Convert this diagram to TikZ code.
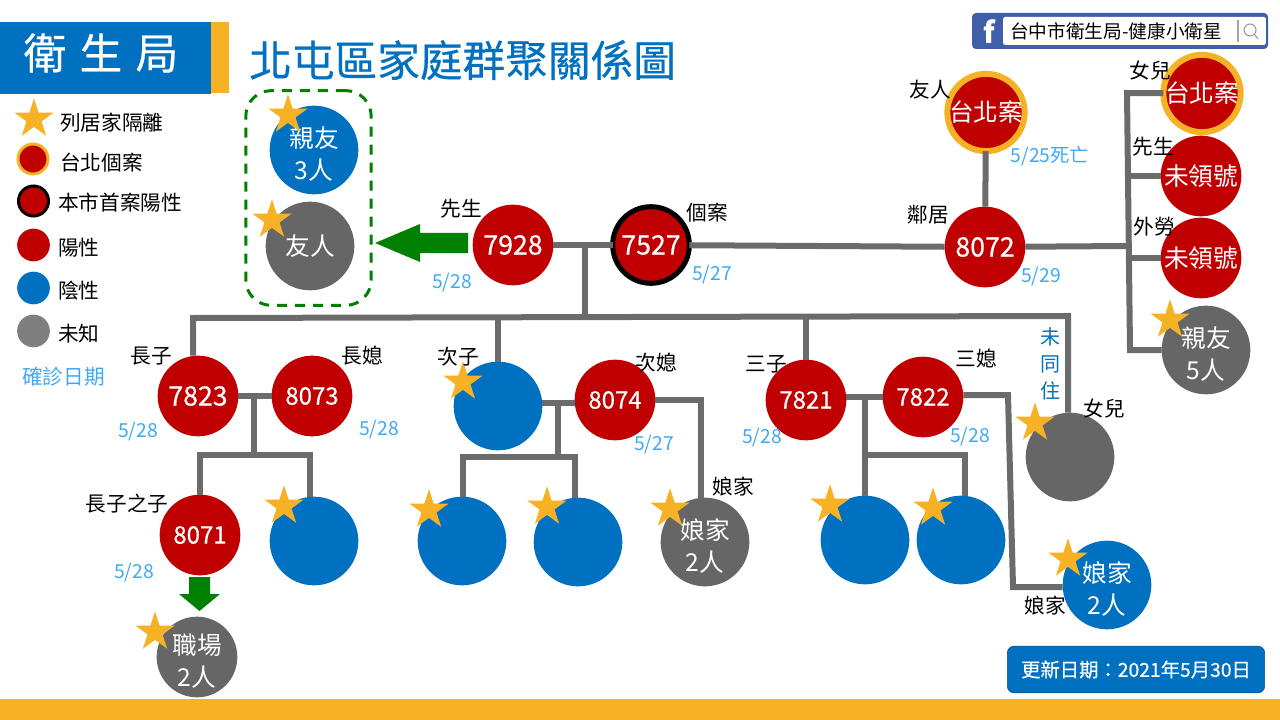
\documentclass[tikz,border=0pt]{standalone}
\usepackage{fontspec}
\setmainfont{Noto Sans CJK TC}
\newfontfamily\medfont[FakeBold=0.5]{Noto Sans CJK TC}
\usetikzlibrary{shapes.geometric}
\definecolor{casered}{HTML}{C00000}
\definecolor{caseblue}{HTML}{0070C0}
\definecolor{casegray}{HTML}{666666}
\definecolor{keygray}{HTML}{7F7F7F}
\definecolor{gold}{HTML}{F7B125}
\definecolor{dateblue}{HTML}{3FA9F5}
\definecolor{linegray}{HTML}{6B6B6B}
\definecolor{arrowgreen}{HTML}{008000}
\definecolor{fbblue}{HTML}{3F5FA8}
\newcommand{\topgap}{\rule{0pt}{21pt}}
\tikzset{
  dot/.style={circle,inner sep=0pt,outer sep=0pt,minimum size=60.5pt,text=white,align=center,font=\fontsize{18.5}{24}\selectfont},
  poscase/.style={dot,fill=casered},
  posnum/.style={poscase,font=\medfont\fontsize{20}{24}\selectfont},
  negcase/.style={dot,fill=caseblue,minimum size=66.5pt},
  unkcase/.style={dot,fill=casegray,minimum size=66.5pt},
  taipeicase/.style={dot,fill=casered,draw=gold,line width=4.5pt,minimum size=56pt},
  firstcase/.style={dot,fill=casered,draw=black,line width=3.75pt,minimum size=57.5pt,font=\medfont\fontsize{20}{24}\selectfont},
  smallnum/.style={poscase,font=\medfont\fontsize{18}{24}\selectfont},
  keydot/.style={circle,inner sep=0pt,outer sep=0pt,minimum size=24.5pt},
  tag/.style={inner sep=0pt,yshift=-0.75pt,font=\fontsize{15.5}{18}\selectfont},
  keytag/.style={tag,anchor=west},
  datetag/.style={inner sep=0pt,yshift=-1pt,text=dateblue,font=\fontsize{14.5}{18}\selectfont},
  starmark/.style={star,star points=5,star point ratio=2.618,fill=gold,inner sep=0pt,outer sep=0pt,minimum size=31pt},
  link/.style={draw=linegray,line width=4.5pt}
}
\begin{document}
\begin{tikzpicture}[x=0.75pt,y=-0.75pt]
\useasboundingbox (0,0) rectangle (1280,720);
% header and footer
\fill[gold] (0,699) rectangle (1280,720);
\fill[gold] (211,22) rectangle (229,93);
\fill[caseblue] (0,22) rectangle (211,94);
\node[text=white,inner sep=0pt,font=\medfont\fontsize{32}{36}\selectfont] (office) at (101,53) {衛\hspace{10pt}生\hspace{10pt}局};
\node[anchor=west,inner sep=0pt,text=caseblue,font=\medfont\fontsize{32}{38}\selectfont] (title) at (249,60) {北屯區家庭群聚關係圖};
\node[fill=caseblue,draw=caseblue!70!black,rounded corners=5pt,minimum width=193pt,minimum height=35pt,inner sep=0pt,text=white,font=\medfont\fontsize{14.5}{16}\selectfont] (update) at (1136,669.5) {更新日期：2021年5月30日};
% facebook bar
\node[fill=fbblue,rounded corners=3pt,minimum width=222pt,minimum height=27pt,inner sep=0pt] (fbbar) at (1120,31) {};
\node[fill=white,rounded corners=1.5pt,minimum width=197pt,minimum height=21pt,inner sep=0pt] (fbbox) at (1134.5,31) {};
\node[anchor=west,inner sep=0pt,font=\fontsize{14}{16}\selectfont] (fbname) at (1010,31) {台中市衛生局-健康小衛星};
\node[text=white,inner sep=0pt,font=\bfseries\fontsize{22}{24}\selectfont] (fbmark) at (989,32) {f};
\draw[gray!70,line width=0.8pt] (1238,20) -- (1238,42);
\draw[gray!80,line width=0.8pt] (1250,30) circle (6) (1254.5,34.5) -- (1258,39);
% key
\node[keydot,fill=casered,draw=gold,line width=2.25pt,minimum size=22.5pt] (keytaipei) at (33,159) {};
\node[keydot,fill=casered,draw=black,line width=2.25pt,minimum size=22.5pt] (keyfirst) at (33.5,201) {};
\node[keydot,fill=casered] (keypos) at (33.5,245) {};
\node[keydot,fill=caseblue] (keyneg) at (33.5,288) {};
\node[keydot,fill=keygray] (keyunk) at (33.5,331) {};
\foreach \x/\y/\t in {60/122/列居家隔離, 60/162/台北個案, 58/202/本市首案陽性, 58/247/陽性, 58/290/陰性, 58/333/未知}
\node[keytag] at (\x,\y) {\t};
\node[datetag,anchor=west,font=\fontsize{15.5}{18}\selectfont] (keydate) at (22,375) {確診日期};
% people
\node[negcase] (kin3) at (314,150) {\topgap 親友\\3人};
\node[unkcase] (friend) at (310,246) {友人};
\node[posnum] (c7928) at (513,245) {7928};
\node[firstcase] (c7527) at (651,245) {7527};
\node[posnum] (c8072) at (985,247) {8072};
\node[taipeicase] (tpfriend) at (986,112.5) {台北案};
\node[taipeicase] (tpdaughter) at (1202,93.5) {台北案};
\node[poscase] (husband) at (1201,176) {未領號};
\node[poscase] (worker) at (1201,258) {未領號};
\node[unkcase] (kin5) at (1206,350) {\topgap 親友\\5人};
\node[posnum] (c7823) at (198,396) {7823};
\node[smallnum] (c8073) at (312,396) {8073};
\node[smallnum] (c8071) at (200,535) {8071};
\node[negcase] (grandb) at (314,541) {};
\node[unkcase,minimum size=60.5pt] (work2) at (197,657) {\topgap 職場\\2人};
\node[negcase] (son2) at (498,406) {};
\node[smallnum] (c8074) at (615,400) {8074};
\node[negcase] (grandc) at (462,541) {};
\node[negcase] (grandd) at (578,542) {};
\node[unkcase] (inlaw2a) at (705,542) {\topgap 娘家\\2人};
\node[smallnum] (c7821) at (806,400) {7821};
\node[smallnum] (c7822) at (923,397) {7822};
\node[negcase] (grande) at (865,540) {};
\node[negcase] (grandf) at (961,540) {};
\node[unkcase] (daughter) at (1070,457) {};
\node[negcase] (inlaw2b) at (1107,585) {\topgap 娘家\\2人};
\node[draw=arrowgreen,dash pattern=on 7.5pt off 6pt,line width=2.25pt,rounded corners=19pt,minimum width=94pt,minimum height=161pt,inner sep=0pt] (kinbox) at (308.5,198) {};
% junctions
\coordinate (trunktop) at (585,245);
\coordinate (trunkbot) at (585,316);
\coordinate (busleft) at (193,318);
\coordinate (busright) at (1068,316);
\coordinate (busb) at (498,316);
\coordinate (busc) at (806,316);
\coordinate (busd) at (1127,246);
\coordinate (jAtop) at (254,397);
\coordinate (jAbot) at (254,455);
\coordinate (jAl) at (200,455);
\coordinate (jAr) at (310,455);
\coordinate (jBtop) at (558,403);
\coordinate (jBbot) at (558,457);
\coordinate (jBl) at (463,457);
\coordinate (jBr) at (575,457);
\coordinate (jCtop) at (865,397);
\coordinate (jCbot) at (865,455);
\coordinate (jCr) at (965,455);
\coordinate (inla) at (701,400);
\coordinate (inlb) at (1008,395);
\coordinate (inlc) at (1013,587);
\coordinate (rbust) at (1127,93);
\coordinate (rbusb) at (1130,350);
% connectors
\draw[link] (c7928) -- (c7527);
\draw[link] (c7527) -- (c8072);
\draw[link] (tpfriend) -- (c8072);
\draw[link] (trunktop) -- (trunkbot);
\draw[link] (c7823.north -| busleft) -- (busleft) -- (busright) -- (daughter.north -| busright);
\draw[link] (busb) -- (son2);
\draw[link] (busc) -- (c7821);
\draw[link] (c7823) -- (c8073);
\draw[link] (jAtop) -- (jAbot);
\draw[link] (c8071.north -| jAl) -- (jAl) -- (jAr) -- (grandb.north -| jAr);
\draw[link] (son2.east |- jBtop) -- (c8074.west |- jBtop);
\draw[link] (jBtop) -- (jBbot);
\draw[link] (grandc.north -| jBl) -- (jBl) -- (jBr) -- (grandd.north -| jBr);
\draw[link] (c7821.east |- jCtop) -- (c7822.west |- jCtop);
\draw[link] (jCtop) -- (jCbot);
\draw[link] (grande.north) -- (grande.north |- jCbot) -- (jCr) -- (grandf.north -| jCr);
\draw[link] (c8074.east) -- (inla) -- (inlaw2a.north -| inla);
\draw[link] (c7822.east |- inlb) -- (inlb) -- (inlc) -- (inlaw2b.west |- inlc);
\draw[link] (c8072) -- (busd);
\draw[link] (tpdaughter) -- (rbust) -- (rbusb) -- (kin5);
\draw[link] (husband) -- (husband -| rbust);
\draw[link] (worker) -- (worker -| rbust);
% green arrows
\fill[arrowgreen] (468,233) -- (420,233) -- (420,224) -- (375,243) -- (420,262) -- (420,253) -- (468,253) -- cycle;
\fill[arrowgreen] (189,577) -- (210,577) -- (210,594) -- (220,594) -- (199.5,611) -- (179,594) -- (189,594) -- cycle;
% stars
\foreach \x/\y [count=\i] in {34/119, 288/115, 272/220, 1170/320, 463/382, 284/506, 429/510, 547/507, 670/509, 830/505, 933/508, 1035/423, 1068/559, 155/632}
\node[starmark] (star\i) at (\x,\y) {};
% names
\foreach \x/\y/\t in {461/208/先生, 707/212/個案, 930/89/友人, 928/214/鄰居, 1150/70/女兒, 1153/146/先生, 1154/226/外勞, 151/355/長子, 362/355/長媳, 458/356/次子, 656/362/次媳, 766/363/三子, 976/358/三媳, 1104/408/女兒, 127/503/長子之子, 733/486/娘家, 1045/605/娘家}
\node[tag] at (\x,\y) {\t};
\node[tag,text=caseblue,align=center,font=\fontsize{15}{20}\selectfont] (apart) at (1050,363) {未\\同\\住};
% dates
\foreach \x/\y/\t in {1050/155/{5/25死亡}, 1041/275/{5/29}, 712/273/{5/27}, 452/281/{5/28}, 138/430/{5/28}, 379/428/{5/28}, 654/443/{5/27}, 762/436/{5/28}, 970/435/{5/28}, 134/571/{5/28}}
\node[datetag] at (\x,\y) {\t};
\end{tikzpicture}
\end{document}
